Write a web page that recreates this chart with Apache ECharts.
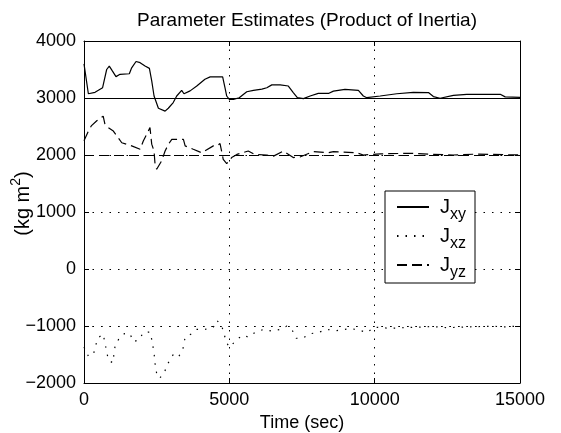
<!DOCTYPE html>
<html>
<head>
<meta charset="utf-8">
<script src="https://cdn.jsdelivr.net/npm/echarts@6/dist/echarts.min.js"></script>
<style>
  html, body { margin: 0; padding: 0; background: #fff; }
  #chart { width: 561px; height: 433px; }
</style>
</head>
<body>
<div id="chart"></div>
<script>
// Product-of-inertia estimates over time (kg m^2)
const xyTime = [0,150,380,640,780,870,975,1100,1240,1560,1640,1790,1930,2100,2250,2330,2410,2480,2560,2790,2900,3070,3190,3360,3440,3650,3880,4160,4340,4770,4850,4910,5000,5140,5340,5600,5830,6120,6290,6460,6750,7030,7200,7340,7550,7780,8060,8410,8580,8980,9440,9610,9730,10190,10760,11330,11850,12020,12250,12710,13170,14320,14490,15000];
const xyValue = [3600,3075,3100,3180,3500,3560,3475,3375,3415,3425,3530,3640,3620,3560,3520,3300,3035,2935,2820,2770,2820,2920,3035,3135,3075,3125,3210,3330,3370,3370,3180,3035,2975,2975,3005,3110,3135,3155,3180,3230,3230,3210,3095,3005,2990,3035,3080,3080,3120,3150,3135,3035,3005,3035,3075,3100,3095,3025,2995,3045,3065,3065,3020,3010];

const xzTime = [0,150,330,380,490,660,720,840,990,1070,1220,1390,1580,1700,1900,2040,2270,2330,2390,2420,2450,2500,2590,2760,2850,2960,3070,3250,3400,3480,3710,3880,4160,4450,4570,4740,4820,4910,5000,5080,5260,5480,5650,5880,6170,6460,6750,6980,7180,7300,7520,7780,8060,8350,8700,9100,9400,9730,10000,10500,11000,11500,12000,12500,13000,13500,14000,14500,15000];
const xzValue = [-1370,-1530,-1490,-1370,-1205,-1145,-1295,-1600,-1645,-1350,-1205,-1135,-1135,-1275,-1240,-1115,-1105,-1235,-1410,-1525,-1685,-1835,-1920,-1830,-1685,-1600,-1500,-1545,-1410,-1195,-1135,-1060,-1060,-1020,-900,-1000,-1145,-1295,-1370,-1335,-1235,-1160,-1195,-1115,-1060,-1090,-1060,-1000,-1090,-1215,-1215,-1135,-1115,-1060,-1080,-1050,-1060,-1115,-1020,-1040,-1030,-1020,-1010,-1030,-1020,-1010,-1005,-1015,-1000];

const yzTime = [0,150,250,440,660,720,840,1010,1300,1640,1700,1930,2040,2210,2270,2330,2410,2440,2500,2670,2790,2900,3020,3130,3420,3480,3760,4050,4450,4570,4680,4790,4910,5080,5260,5650,5880,6290,6520,6860,7200,7430,7890,8410,8580,9380,9610,10200,11220,12000,12700,13500,14500,15000];
const yzValue = [2250,2420,2510,2600,2680,2540,2480,2420,2215,2160,2130,2100,2245,2420,2480,2190,2070,1865,1750,1895,2070,2185,2275,2275,2275,2160,2100,2040,2160,2160,2200,1925,1850,1955,2010,2070,2010,2000,1980,2070,1955,1965,2060,2040,2060,2040,2000,2020,2030,2010,2000,2015,2005,2000];

// True parameter values
const trueXY = 3000;
const trueXZ = -1000;
const trueYZ = 2000;

const xTicks = { min: 0, max: 15000, interval: 5000 };
const yTicks = { min: -2000, max: 4000, interval: 1000 };

const seriesNames = ['Jxy', 'Jxz', 'Jyz'];
const legendLabels = { Jxy: ['J', 'xy'], Jxz: ['J', 'xz'], Jyz: ['J', 'yz'] };

const FONT = 'Liberation Sans';
const DOT = [1.5, 7];
const DASH = [10, 5];

function pairs(t, v) { return t.map((x, i) => [x, v[i]]); }
function tickText(v) { return v < 0 ? '\u2212' + Math.abs(v) : String(v); }

function lineSeries(name, t, v, type, truth) {
  return {
    name: name,
    type: 'line',
    data: pairs(t, v),
    symbol: 'none',
    smooth: false,
    lineStyle: { color: '#000', width: 1.2, type: type },
    itemStyle: { color: '#000' },
    emphasis: { disabled: true },
    animation: false,
    markLine: {
      silent: true,
      symbol: 'none',
      label: { show: false },
      animation: false,
      lineStyle: { color: '#000', width: 1.2, type: type },
      data: [{ yAxis: truth }]
    }
  };
}

const chart = echarts.init(document.getElementById('chart'), null, { renderer: 'canvas' });

const tickStyle = { show: true, inside: true, length: 5, lineStyle: { color: '#000', width: 1 } };
const axisLineStyle = { show: true, onZero: false, lineStyle: { color: '#000', width: 1 } };

chart.setOption({
  backgroundColor: '#fff',
  animation: false,
  title: {
    text: 'Parameter Estimates (Product of Inertia)',
    left: 302, top: 6, textAlign: 'center',
    textStyle: { fontFamily: FONT, fontSize: 19, fontWeight: 'normal', color: '#000' }
  },
  grid: { left: 84, right: 41, top: 41, bottom: 50, containLabel: false, outerBoundsMode: 'none' },
  legend: {
    data: seriesNames,
    orient: 'vertical',
    left: 385, top: 191,
    backgroundColor: '#fff',
    borderColor: '#000', borderWidth: 1, borderRadius: 0,
    padding: [6, 9, 2, 11],
    itemWidth: 32, itemHeight: 14, itemGap: 3,
    selectedMode: false,
    itemStyle: { opacity: 0 },
    formatter: name => '{j|' + legendLabels[name][0] + '}{s|' + legendLabels[name][1] + '}',
    textStyle: {
      fontFamily: FONT, color: '#000', padding: [0, 0, 0, 6],
      rich: {
        j: { fontFamily: FONT, fontSize: 20, color: '#000', lineHeight: 20, verticalAlign: 'top' },
        s: { fontFamily: FONT, fontSize: 16, color: '#000', lineHeight: 16, padding: [10, 0, 0, 0], verticalAlign: 'top' }
      }
    }
  },
  xAxis: [
    {
      type: 'value', position: 'bottom', ...xTicks,
      name: 'Time (sec)', nameLocation: 'middle', nameGap: 31,
      nameTextStyle: { fontFamily: FONT, fontSize: 18, color: '#000' },
      axisLine: axisLineStyle, axisTick: tickStyle,
      axisLabel: { fontFamily: FONT, fontSize: 18, color: '#000', margin: 8, formatter: tickText },
      splitLine: { show: true, lineStyle: { color: '#000', width: 1, type: DOT } }
    },
    {
      type: 'value', position: 'top', ...xTicks,
      axisLine: axisLineStyle, axisTick: tickStyle,
      axisLabel: { show: false }, splitLine: { show: false }
    }
  ],
  yAxis: [
    {
      type: 'value', position: 'left', ...yTicks,
      name: '{b|(kg m}{sup|2}{b|)}', nameLocation: 'middle', nameGap: 51, nameRotate: 90,
      nameMoveOverlap: false,
      nameTextStyle: {
        fontFamily: FONT, fontSize: 20, color: '#000', padding: [0, 0, 0, 17],
        rich: {
          b: { fontFamily: FONT, fontSize: 20, color: '#000', lineHeight: 24, verticalAlign: 'bottom' },
          sup: { fontFamily: FONT, fontSize: 14, color: '#000', lineHeight: 14, verticalAlign: 'top' }
        }
      },
      axisLine: axisLineStyle, axisTick: tickStyle,
      axisLabel: { fontFamily: FONT, fontSize: 18, color: '#000', margin: 8, formatter: tickText },
      splitLine: { show: true, lineStyle: { color: '#000', width: 1, type: DOT } }
    },
    {
      type: 'value', position: 'right', ...yTicks,
      axisLine: axisLineStyle, axisTick: tickStyle,
      axisLabel: { show: false }, splitLine: { show: false }
    }
  ],
  series: [
    lineSeries('Jxy', xyTime, xyValue, 'solid', trueXY),
    lineSeries('Jxz', xzTime, xzValue, DOT, trueXZ),
    lineSeries('Jyz', yzTime, yzValue, DASH, trueYZ)
  ]
});
</script>
</body>
</html>
